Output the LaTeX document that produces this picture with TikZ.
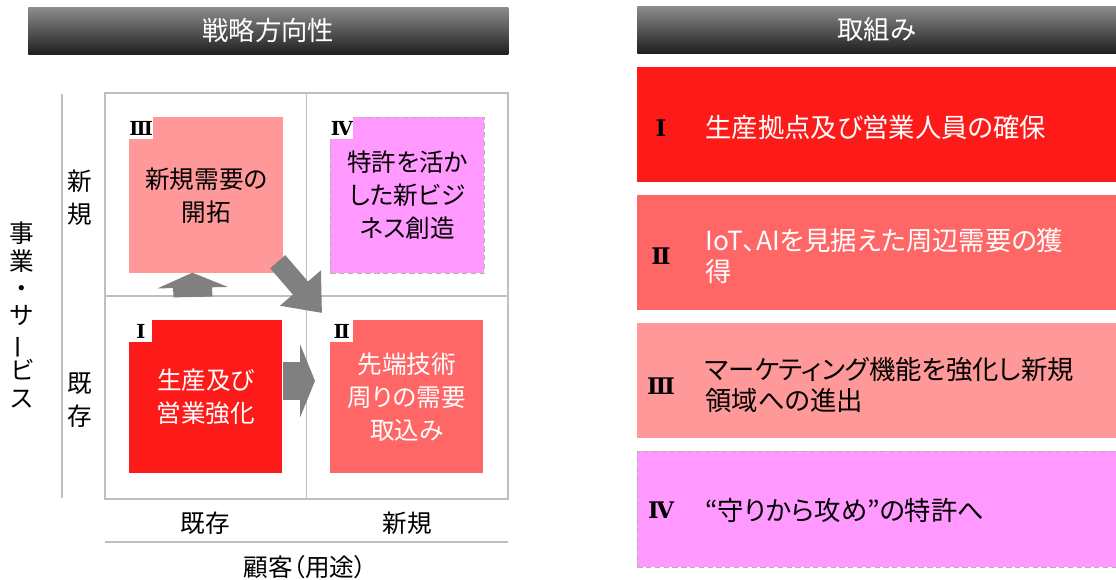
\documentclass[tikz,border=0pt]{standalone}
\usepackage{fontspec}
\setmainfont{Noto Sans CJK JP}[RawFeature=+palt]
\newfontfamily\romfont{DejaVu Serif}
\usetikzlibrary{calc,arrows.meta}
\newdimen\pxu \pxu=0.02cm
\definecolor{qred}{RGB}{255,26,26}
\definecolor{qsalmon}{RGB}{255,102,102}
\definecolor{qpink}{RGB}{255,153,153}
\definecolor{qviolet}{RGB}{255,153,255}
\definecolor{arrgray}{RGB}{128,128,128}
\begin{document}
\begin{tikzpicture}[x=0.02cm,y=-0.02cm]
	\tikzstyle{HDR}=[rectangle,anchor=north west,inner sep=0pt,top color=black!45,bottom color=black!88,minimum height=47\pxu,text=white,font=\fontsize{15}{18}\selectfont]
	\tikzstyle{QB}=[rectangle,anchor=north west,inner sep=0pt,align=center,font=\fontsize{14}{18.7}\selectfont]
	\tikzstyle{NUM}=[rectangle,anchor=north west,fill=white,inner sep=0pt,minimum width=23\pxu,minimum height=22\pxu,font=\romfont\bfseries\fontsize{11}{11}\selectfont]
	\tikzstyle{RB}=[rectangle,anchor=north west,inner sep=0pt,minimum width=479\pxu,minimum height=115\pxu]
	\tikzstyle{RTXT}=[anchor=west,inner sep=0pt,align=left,font=\fontsize{15}{17.5}\selectfont]
	\tikzstyle{RNUM}=[inner sep=0pt,font=\romfont\bfseries\fontsize{13}{13}\selectfont]
	\tikzstyle{AX}=[inner sep=0pt,align=center,font=\fontsize{14}{18.7}\selectfont]
	\tikzstyle{GRID}=[draw=black!25,line width=1pt]
	\tikzstyle{BLK}=[draw=arrgray]
	\useasboundingbox (0,0) rectangle (1116,580);

	% headers
	\node[HDR,minimum width=480\pxu] (hdrL) at (28,7) {戦略方向性};
	\node[HDR,minimum width=479\pxu] (hdrR) at (637,6) {取組み};

	% matrix
	\node[GRID,rectangle,minimum width=403\pxu,minimum height=406\pxu] (mat) at (306.5,296) {};
	\draw[GRID] (mat.north) -- (mat.south);
	\draw[GRID] (mat.west) -- (mat.east);
	\draw[GRID] (62,94) -- (62,498);
	\draw[GRID] (105,542) -- (508,542);

	\node[AX] (newL) at (80,198) {新\\規};
	\node[AX] (oldL) at (80,400) {既\\存};
	\node[AX] (oldB) at (205,523) {既存};
	\node[AX] (newB) at (407,523) {新規};
	\node[AX] (cust) at (305,567) {顧客（用途）};
	\node[AX,font=\fontsize{14}{15.6}\selectfont] (biz) at (22,315) {事\\業\\・\\サ\\\rotatebox[origin=c]{90}{ー}\\ビ\\ス};

	% quadrants
	\node[QB,fill=qpink,minimum width=154\pxu,minimum height=156\pxu] (qIII) at (129,117) {新規需要の\\開拓};
	\node[QB,fill=qviolet,draw=black!30,densely dashed,minimum width=154\pxu,minimum height=156\pxu] (qIV) at (330,117) {特許を活か\\した新ビジ\\ネス創造};
	\node[QB,fill=qred,text=white,minimum width=153\pxu,minimum height=153\pxu] (qI) at (129,320) {生産及び\\営業強化};
	\node[QB,fill=qsalmon,text=white,minimum width=153\pxu,minimum height=153\pxu] (qII) at (330,320) {先端技術\\周りの需要\\取込み};
	\node[NUM] (nIII) at (qIII.north west) {Ⅲ};
	\node[NUM] (nIV) at (qIV.north west) {Ⅳ};
	\node[NUM] (nI) at (qI.north west) {Ⅰ};
	\node[NUM] (nII) at (qII.north west) {Ⅱ};

	% arrows
	\draw[BLK,line width=0.78cm,-{Triangle[width=1.4cm,length=0.3cm]},arrgray] ($(qI.north)+(-13,-23)$) -- ($(qIII.south)+(-14,-1)$);
	\draw[BLK,line width=0.76cm,-{Triangle[width=1.46cm,length=0.3cm]},arrgray] ($(qI.east)+(0,-16)$) -- ($(qII.west)+(-15,-16)$);
	\draw[BLK,line width=0.4cm,-{Triangle[width=1.04cm,length=0.66cm]},arrgray] ($(qIII.south east)+(-6,-12)$) -- ($(qII.north west)+(-8,-7)$);

	% right column
	\node[RB,fill=qred] (rI) at (637,67) {};
	\node[RB,fill=qsalmon] (rII) at (637,195) {};
	\node[RB,fill=qpink] (rIII) at (637,323) {};
	\node[RB,fill=qviolet,draw=black!30,densely dashed,minimum height=116\pxu] (rIV) at (637,451) {};
	\node[RNUM] (tnI) at ($(rI.west)+(24,3)$) {Ⅰ};
	\node[RNUM] (tnII) at ($(rII.west)+(24,3)$) {Ⅱ};
	\node[RNUM] (tnIII) at ($(rIII.west)+(24,5)$) {Ⅲ};
	\node[RNUM] (tnIV) at ($(rIV.west)+(24,1)$) {Ⅳ};
	\node[RTXT,text=white] (tI) at ($(rI.west)+(68,3)$) {生産拠点及び営業人員の確保};
	\node[RTXT,text=white] (tII) at ($(rII.west)+(68,3)$) {IoT、AIを見据えた周辺需要の獲\\得};
	\node[RTXT] (tIII) at ($(rIII.west)+(68,4)$) {マーケティング機能を強化し新規\\領域への進出};
	\node[RTXT] (tIV) at ($(rIV.west)+(68,1)$) {“守りから攻め”の特許へ};
\end{tikzpicture}
\end{document}
